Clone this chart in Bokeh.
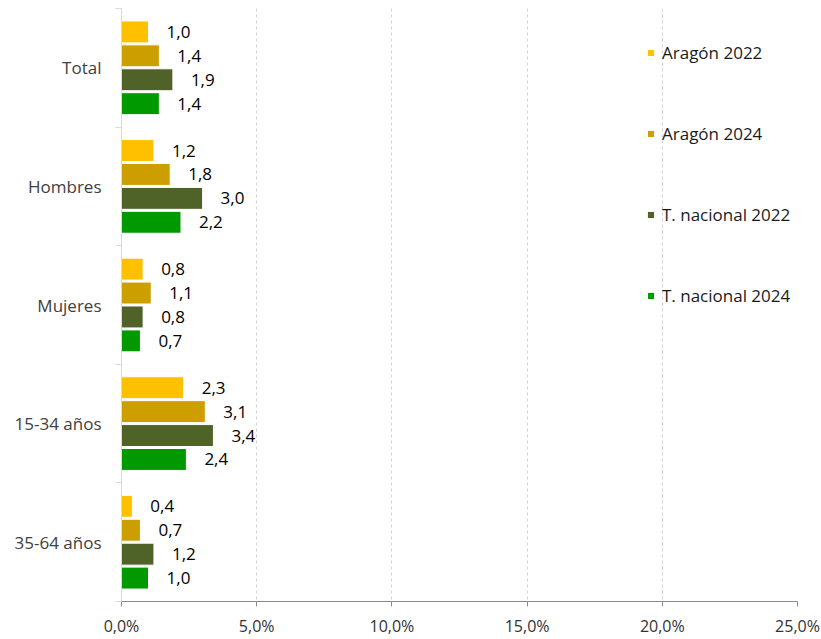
from bokeh.plotting import figure
from bokeh.models import (ColumnDataSource, Range1d, FixedTicker, Legend, LegendItem)
from bokeh.transform import dodge
from bokeh.core.properties import value
from bokeh.embed import file_html
from bokeh.resources import INLINE

categories = ["Total", "Hombres", "Mujeres", "15-34 años", "35-64 años"]
series_names = ["Aragón 2022", "Aragón 2024", "T. nacional 2022", "T. nacional 2024"]
aragon_2022 = [1.0, 1.2, 0.8, 2.3, 0.4]
aragon_2024 = [1.4, 1.8, 1.1, 3.1, 0.7]
nacional_2022 = [1.9, 3.0, 0.8, 3.4, 1.2]
nacional_2024 = [1.4, 2.2, 0.7, 2.4, 1.0]
series_values = [aragon_2022, aragon_2024, nacional_2022, nacional_2024]
colors = ["#FFC000", "#CC9E00", "#4F6228", "#009900"]
x_ticks = [0, 5, 10, 15, 20, 25]
x_tick_labels = ["0,0%", "5,0%", "10,0%", "15,0%", "20,0%", "25,0%"]

FONT = "Open Sans"

p = figure(width=821, height=639, output_backend="svg", toolbar_location=None,
           x_range=Range1d(0, 25), y_range=Range1d(5, 0),
           min_border_left=121, min_border_right=24, min_border_top=8, min_border_bottom=35)
p.outline_line_color = None
p.background_fill_color = "white"
p.border_fill_color = "white"

centers = [i + 0.5 for i in range(len(categories))]
step = 0.2017
bar_h = 0.185

renderers = []
for j, (name, vals, col) in enumerate(zip(series_names, series_values, colors)):
    src = ColumnDataSource(dict(
        y=centers, x=vals,
        lab=[f"{v:.1f}".replace(".", ",") for v in vals]))
    off = (j - 1.5) * step
    r = p.hbar(y=dodge("y", off, range=p.y_range), right="x", left=0, height=bar_h,
               source=src, fill_color=col, line_color="white", line_width=1)
    renderers.append(r)
    p.text(x="x", y=dodge("y", off, range=p.y_range), text="lab", source=src,
           x_offset=18, text_align="left", text_baseline="middle",
           text_font_size="17px", text_color="#000000", text_font=value(FONT))

# x axis
p.xaxis.ticker = FixedTicker(ticks=x_ticks)
p.xaxis.major_label_overrides = {t: l for t, l in zip(x_ticks, x_tick_labels)}
p.xaxis.major_label_text_font = FONT
p.xaxis.major_label_text_font_size = "16px"
p.xaxis.major_label_text_color = "#333333"
p.xaxis.axis_line_color = "#8c8c8c"
p.xaxis.major_tick_line_color = "#8c8c8c"
p.xaxis.major_tick_out = 5
p.xaxis.major_tick_in = 0
p.xaxis.minor_tick_line_color = None
p.xaxis.major_label_standoff = 8

# y axis
p.yaxis.ticker = FixedTicker(ticks=centers, minor_ticks=[0, 1, 2, 3, 4, 5])
p.yaxis.major_label_overrides = {c: n for c, n in zip(centers, categories)}
p.yaxis.major_label_text_font = FONT
p.yaxis.major_label_text_font_size = "17px"
p.yaxis.major_label_text_color = "#404040"
p.yaxis.axis_line_color = "#d9d9d9"
p.yaxis.major_tick_line_color = None
p.yaxis.minor_tick_line_color = "#d9d9d9"
p.yaxis.minor_tick_out = 6
p.yaxis.minor_tick_in = 0
p.yaxis.major_label_standoff = 14

# grid
p.xgrid.ticker = FixedTicker(ticks=x_ticks[1:])
p.xgrid.grid_line_color = "#d0d0d0"
p.xgrid.grid_line_dash = "3 3"
p.ygrid.grid_line_color = None

legend = Legend(items=[LegendItem(label=n, renderers=[r]) for n, r in zip(series_names, renderers)],
                location=(525, 294), orientation="vertical",
                glyph_width=9, glyph_height=9, label_standoff=7, spacing=58,
                label_height=20, padding=0, margin=0,
                border_line_color=None, background_fill_alpha=0,
                label_text_font=FONT, label_text_font_size="17px", label_text_color="#1a1a1a")
p.add_layout(legend, "center")

open("out.html", "w").write(file_html(p, INLINE))
